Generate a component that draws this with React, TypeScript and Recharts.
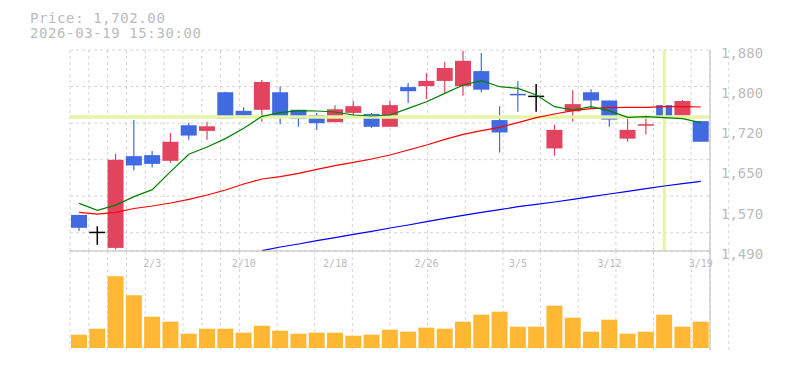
import React from 'react';
import { ComposedChart, Bar, Line, XAxis, YAxis, CartesianGrid, ReferenceLine } from 'recharts';

const dates = ["1/28","1/29","1/30","2/2","2/3","2/4","2/5","2/6","2/9","2/10","2/12","2/13","2/16","2/17","2/18","2/19","2/20","2/24","2/25","2/26","2/27","3/2","3/3","3/4","3/5","3/6","3/9","3/10","3/11","3/12","3/13","3/16","3/17","3/18","3/19"];
const opens  = [1560,1526,1496,1674,1676,1665,1734,1723,1798,1762,1764,1798,1764,1754,1740,1758,1756,1731,1808,1810,1820,1810,1839,1744,1795,1790,1689,1761,1798,1782,1708,1733,1773,1753,1742];
const highs  = [1560,1538,1679,1744,1684,1719,1739,1741,1799,1769,1822,1809,1764,1758,1773,1781,1758,1781,1816,1835,1857,1878,1874,1771,1820,1814,1735,1802,1804,1782,1746,1753,1799,1783,1742];
const lows   = [1529,1502,1493,1646,1652,1661,1706,1706,1747,1750,1741,1736,1731,1725,1740,1749,1729,1731,1777,1785,1797,1791,1798,1681,1760,1760,1675,1741,1768,1731,1702,1716,1739,1753,1702];
const closes = [1535,1526,1667,1656,1659,1702,1714,1732,1747,1753,1818,1752,1746,1738,1765,1771,1731,1773,1800,1820,1845,1859,1803,1720,1792,1790,1725,1775,1782,1745,1725,1736,1749,1781,1702];
const ma5  = [1582.5,1568.9,1579,1595.4,1609,1643.9,1677.6,1691.8,1708,1728,1751.3,1758.4,1762.3,1761.6,1759.7,1753.9,1751.9,1753.9,1766.8,1779.7,1795.9,1812.1,1820.5,1808.8,1805.6,1792.7,1770,1763.6,1770,1762,1749.3,1750.6,1748.7,1746.8,1739];
const ma25 = [1565,1561.5,1565,1572.5,1577.3,1583.1,1590.2,1598.6,1608.4,1620,1629.7,1634.2,1640.7,1648.4,1655.6,1662,1668.5,1676.3,1686,1695.7,1706.7,1716.4,1723.5,1730,1739,1748.7,1755.8,1762.3,1766.2,1768.1,1768.7,1768.7,1770,1770,1769.4];
const ma75 = [null,null,null,null,null,null,null,null,null,null,1490.6,1497.7,1503.6,1510,1515.9,1522.3,1528.2,1534.6,1540.4,1546.9,1553.4,1559.2,1565,1570.2,1576,1580.5,1585.1,1590.2,1595.4,1600.6,1605.8,1611,1616.1,1620.6,1625.2];
const volumes = [40000,58000,215000,158000,94000,79000,43000,58000,58000,46000,67000,52000,43000,46000,46000,37000,40000,55000,49000,61000,58000,79000,100000,109000,64000,64000,127000,91000,49000,85000,43000,49000,100000,64000,79000];

const xTicks = ["2/3","2/10","2/18","2/26","3/5","3/12","3/19"];
const yTicks = [1490,1568,1646,1724,1802,1880];
const crossDate = "3/17";
const crossPrice = 1750;
const stampText = "2026-03-19 15:30:00";

const gridXTicks = Array.from({ length: dates.length + 1 }, (_, i) => i);
const gridYTicks = Array.from({ length: 12 }, (_, i) => i);

const FONT = '"DejaVu Sans Mono", monospace';
const RED = '#e2435f';
const BLUE = '#4169e1';
const GRAY = '#bbbbbb';
const GRID = '#d6d6d6';
const CROSS = '#e4f5a6';

const priceData = dates.map((d, i) => ({
  date: d, open: opens[i], high: highs[i], low: lows[i], close: closes[i],
  ma5: ma5[i], ma25: ma25[i], ma75: ma75[i],
}));
const volData = dates.map((d, i) => ({ date: d, volume: volumes[i] }));

const Candle = (props: any) => {
  const { x, y, width, height, payload } = props;
  if (!payload || x == null || y == null) return null;
  const top = Math.min(y, y + height);
  const h = Math.abs(height);
  const { open, close, high, low } = payload;
  const py = (p: number) => top + ((high - p) / (high - low)) * h;
  const cx = x + width / 2;
  if (open === close) {
    const yy = py(close);
    return (
      <g>
        <line x1={cx} x2={cx} y1={top} y2={top + h} stroke="#000" strokeWidth={1.5} />
        <line x1={x} x2={x + width} y1={yy} y2={yy} stroke="#000" strokeWidth={1.5} />
      </g>
    );
  }
  const color = close > open ? RED : BLUE;
  const bt = py(Math.max(open, close));
  const bb = py(Math.min(open, close));
  return (
    <g>
      <line x1={cx} x2={cx} y1={top} y2={top + h} stroke={color} strokeWidth={1.2} />
      <rect x={x} y={bt} width={width} height={Math.max(bb - bt, 1.5)} fill={color} />
    </g>
  );
};

const fmtPrice = (v: number) => (Math.round(v / 10) * 10).toLocaleString('en-US');

const YTick = (props: any) => (
  <text x={props.x} y={props.y + 7.8} fontSize={14} fill={GRAY} fontFamily={FONT} textAnchor="start">
    {fmtPrice(props.payload.value)}
  </text>
);
const XTick = (props: any) => (
  <text x={props.x} y={props.y + 15.5} fontSize={10} fill={GRAY} fontFamily={FONT} textAnchor="middle">
    {props.payload.value}
  </text>
);

export default function App() {
  const last = closes[closes.length - 1];
  const priceText = `Price: ${last.toLocaleString('en-US', { minimumFractionDigits: 2, maximumFractionDigits: 2 })}`;
  return (
    <div style={{ position: 'absolute', left: 0, top: 0, width: 785, height: 370, background: '#fff' }}>
      <svg width={785} height={50} style={{ position: 'absolute', left: 0, top: 0 }}>
        <text x={30} y={23.3} fontSize={14} letterSpacing={0.6} fill={GRAY} fontFamily={FONT}>{priceText}</text>
        <text x={30} y={37.6} fontSize={14} letterSpacing={0.6} fill={GRAY} fontFamily={FONT}>{stampText}</text>
      </svg>
      <div style={{ position: 'absolute', left: 0, top: 0 }}>
        <ComposedChart width={785} height={280} data={priceData} margin={{ top: 50, right: 0, bottom: 0, left: 70 }}>
          <XAxis xAxisId="g" type="number" domain={[0, dates.length]} ticks={gridXTicks} allowDataOverflow hide />
          <YAxis yAxisId="g" type="number" domain={[0, 11]} ticks={gridYTicks} allowDataOverflow hide />
          <CartesianGrid xAxisId="g" yAxisId="g" stroke={GRID} strokeDasharray="3 3" />
          <XAxis dataKey="date" ticks={xTicks} interval={0} height={29} tickSize={0} tickMargin={0}
            tickLine={false} axisLine={{ stroke: GRAY }} tick={<XTick />} />
          <YAxis orientation="right" width={75} domain={[1490, 1880]} ticks={yTicks} allowDataOverflow
            tickSize={0} tickMargin={11} tickLine={false} axisLine={{ stroke: GRAY }} tick={<YTick />} />
          <ReferenceLine y={crossPrice} stroke={CROSS} strokeWidth={3.5} />
          <ReferenceLine x={crossDate} stroke={CROSS} strokeWidth={3} />
          <Line dataKey="ma75" stroke="#0000ff" strokeWidth={1.2} dot={false} isAnimationActive={false} />
          <Line dataKey="ma25" stroke="#ff0000" strokeWidth={1.2} dot={false} isAnimationActive={false} />
          <Line dataKey="ma5" stroke="#008000" strokeWidth={1.2} dot={false} isAnimationActive={false} />
          <Bar dataKey={(d: any) => [d.low, d.high]} barSize={16} shape={<Candle />} isAnimationActive={false} />
        </ComposedChart>
      </div>
      <div style={{ position: 'absolute', left: 0, top: 251 }}>
        <ComposedChart width={785} height={99} data={volData} margin={{ top: 0, right: 0, bottom: 0, left: 70 }}>
          <XAxis xAxisId="g" type="number" domain={[0, dates.length]} ticks={gridXTicks} allowDataOverflow hide />
          <CartesianGrid xAxisId="g" horizontal={false} stroke={GRID} strokeDasharray="3 3" />
          <XAxis dataKey="date" height={0} tick={false} tickLine={false} axisLine={{ stroke: GRAY }} />
          <YAxis orientation="right" width={75} domain={[0, 291000]} padding={{ top: 0, bottom: 2 }}
            tick={false} tickLine={false} axisLine={{ stroke: GRAY }} />
          <Bar dataKey="volume" fill="#ffb833" barSize={16} isAnimationActive={false} />
        </ComposedChart>
      </div>
    </div>
  );
}
